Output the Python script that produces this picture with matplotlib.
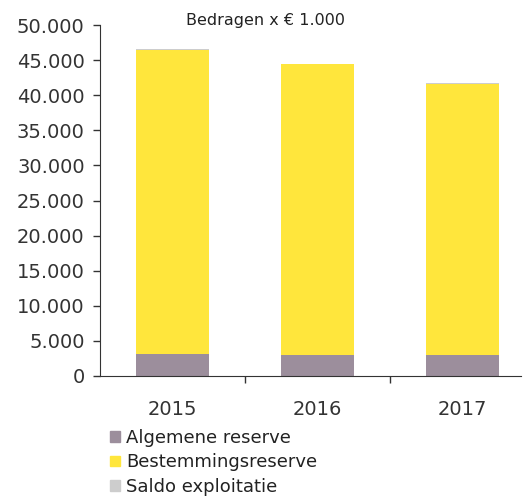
import matplotlib.pyplot as plt
from matplotlib.patches import Patch
import numpy as np

years = ["2015", "2016", "2017"]
algemene = [3100, 3050, 2950]
bestemming = [43300, 41400, 38600]
saldo = [250, 80, 150]

series = [
    ("Algemene reserve", algemene, "#9c8e9c"),
    ("Bestemmingsreserve", bestemming, "#ffe63c"),
    ("Saldo exploitatie", saldo, "#cdcdcd"),
]

fig = plt.figure(figsize=(5.29, 5.03), dpi=100)
ax = fig.add_axes([0.189, 0.2525, 0.795, 0.6975])

x = np.arange(len(years))
bottom = np.zeros(len(years))
for label, vals, color in series:
    ax.bar(x, vals, width=0.5, bottom=bottom, color=color, label=label)
    bottom += np.array(vals)

ax.set_ylim(0, 50000)
ax.set_xlim(-0.5, 2.4)
ax.set_yticks(np.arange(0, 50001, 5000))
ax.set_yticklabels([f"{v:,}".replace(",", ".") for v in range(0, 50001, 5000)])
ax.set_xticks(x)
ax.set_xticklabels(years)
ax.set_xticks([0.5, 1.5], minor=True)
ax.tick_params(axis="x", which="major", length=0, pad=17, labelsize=14, colors="#333333")
ax.tick_params(axis="x", which="minor", length=5, width=1, color="#333333")
ax.tick_params(axis="y", length=5, width=1, labelsize=14, colors="#333333", pad=6)
for s in ["top", "right"]:
    ax.spines[s].set_visible(False)
for s in ["left", "bottom"]:
    ax.spines[s].set_color("#333333")

ax.text(0.64, 50700, "Bedragen x € 1.000", fontsize=11.5, color="#222222",
        ha="center", va="center")

handles = [Patch(color=c, label=l) for l, _, c in series]
fig.legend(handles=handles, loc="upper left", bbox_to_anchor=(0.208, 0.148),
           frameon=False, fontsize=13, handlelength=0.55, handleheight=0.55,
           handletextpad=0.35, labelspacing=0.38, borderaxespad=0, borderpad=0,
           labelcolor="#222222")

fig.savefig("out.png", dpi=100)
